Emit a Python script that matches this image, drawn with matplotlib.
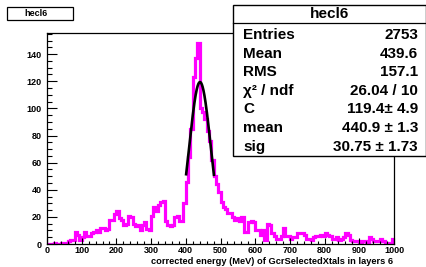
import numpy as np
import matplotlib.pyplot as plt
from matplotlib.patches import Rectangle
from matplotlib.lines import Line2D
from matplotlib.ticker import MultipleLocator

plt.rcParams['font.family'] = ['Liberation Sans', 'DejaVu Sans']
plt.rcParams['font.weight'] = 'bold'

# histogram: 150 bins from 0 to 1000 MeV
x_lo, x_hi, n_bins = 0, 1000, 150
counts = [
    0, 0, 0, 1, 0, 0, 1, 0, 1, 2,
    3, 3, 9, 7, 3, 5, 9, 6, 6, 8,
    9, 10, 9, 12, 12, 10, 11, 18, 18, 22,
    24, 19, 18, 14, 15, 21, 20, 15, 13, 14,
    10, 14, 16, 11, 10, 21, 27, 24, 29, 31,
    32, 17, 14, 13, 14, 20, 21, 17, 17, 30,
    46, 64, 85, 123, 137, 148, 100, 97, 92, 83,
    76, 62, 50, 44, 38, 31, 27, 26, 23, 23,
    20, 18, 19, 17, 20, 9, 9, 16, 17, 16,
    10, 10, 7, 10, 3, 15, 14, 8, 6, 4,
    4, 6, 12, 6, 6, 4, 5, 5, 8, 8,
    8, 7, 4, 4, 3, 5, 6, 6, 7, 6,
    8, 7, 6, 4, 4, 5, 3, 4, 5, 8,
    7, 3, 2, 2, 2, 1, 2, 2, 1, 5,
    4, 2, 2, 2, 4, 2, 1, 1, 1, 4,
]

# gaussian fit results
fit_C, fit_mean, fit_sig = 119.4, 440.9, 30.75
fit_range = (401, 481)

stat_names = ['Entries', 'Mean', 'RMS', 'χ² / ndf', 'C', 'mean', 'sig']
stat_values = ['2753', '439.6', '157.1', '26.04 / 10', '119.4± 4.9', '440.9 ± 1.3', '30.75 ± 1.73']

W, H = 427, 267


def fx(px):
    return px / W


def fy(py):
    return 1 - py / H


fig = plt.figure(figsize=(W / 100, H / 100), dpi=100)
ax = fig.add_axes([fx(47), fy(244), (394 - 47) / W, (244 - 32.7) / H])

edges = np.linspace(x_lo, x_hi, n_bins + 1)
ax.stairs(counts, edges, color='#ff00ff', lw=2.3, baseline=0)

xf = np.linspace(fit_range[0], fit_range[1], 200)
yf = fit_C * np.exp(-0.5 * ((xf - fit_mean) / fit_sig) ** 2)
ax.plot(xf, yf, color='black', lw=1.9)

ax.set_xlim(x_lo, x_hi)
ax.set_ylim(0, 155.8)
ax.xaxis.set_major_locator(MultipleLocator(100))
ax.xaxis.set_minor_locator(MultipleLocator(20))
ax.yaxis.set_major_locator(MultipleLocator(20))
ax.yaxis.set_minor_locator(MultipleLocator(5))
ax.tick_params(axis='both', which='both', direction='in', labelsize=6.5, width=0.8)
ax.tick_params(axis='y', which='major', length=7, pad=4)
ax.tick_params(axis='y', which='minor', length=3.6)
ax.tick_params(axis='x', which='major', length=4.3, pad=1.5)
ax.tick_params(axis='x', which='minor', length=2.4)
for lab in ax.get_xticklabels() + ax.get_yticklabels():
    lab.set_fontweight('bold')
for sp in ax.spines.values():
    sp.set_linewidth(0.9)

fig.text(fx(393), fy(262), 'corrected energy (MeV) of GcrSelectedXtals in layers 6',
         ha='right', va='center', fontsize=6.7, fontweight='bold')

# title box
fig.add_artist(Rectangle((fx(7), fy(20)), (73 - 7) / W, (20 - 7) / H, transform=fig.transFigure,
                         facecolor='white', edgecolor='black', lw=0.9, zorder=5))
fig.text(fx(36.5), fy(13.3), 'hecl6', ha='center', va='center', fontsize=6.5, fontweight='bold', zorder=6)

# stats box
bx0, bx1, by0, by1 = 233, 425.5, 5, 156
fig.add_artist(Rectangle((fx(bx0), fy(by1)), (bx1 - bx0) / W, (by1 - by0) / H, transform=fig.transFigure,
                         facecolor='white', edgecolor='black', lw=1.0, zorder=5))
fig.add_artist(Line2D([fx(bx0), fx(bx1)], [fy(23), fy(23)], transform=fig.transFigure,
                      color='black', lw=0.9, zorder=6))
fig.text(fx((bx0 + bx1) / 2), fy(14), 'hecl6', ha='center', va='center', fontsize=11,
         fontweight='bold', zorder=7)
for i, (name, val) in enumerate(zip(stat_names, stat_values)):
    yy = fy(35 + i * 18.6)
    fig.text(fx(243), yy, name, ha='left', va='center', fontsize=11, fontweight='bold', zorder=7)
    fig.text(fx(418), yy, val, ha='right', va='center', fontsize=11, fontweight='bold', zorder=7)

fig.savefig('out.png', dpi=100)
